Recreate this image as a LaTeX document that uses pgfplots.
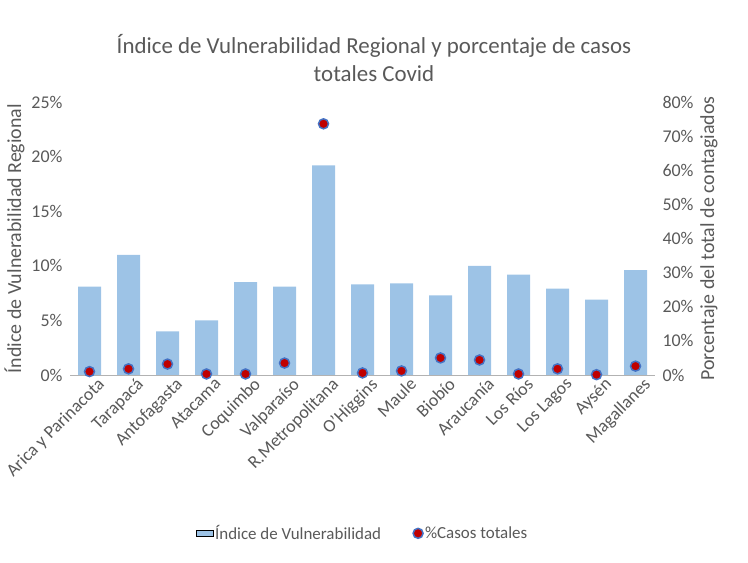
\documentclass[border=0pt]{standalone}
\usepackage{pgfplots}
\pgfplotsset{compat=1.18}
\usepackage{fontspec}
\setmainfont{Carlito}
\definecolor{bar}{HTML}{9DC3E6}
\definecolor{txt}{HTML}{595959}
\definecolor{mk}{HTML}{C00000}
\definecolor{edge}{HTML}{4472C4}
\begin{document}
\begin{tikzpicture}[x=1bp,y=1bp]
\path (0,0) rectangle (748,563);
\node[text=txt,font=\fontsize{23}{28}\selectfont,align=center] at (374,505) {Índice de Vulnerabilidad Regional y porcentaje de casos\\totales Covid};
\begin{axis}[at={(70bp,188bp)},anchor=south west,scale only axis,width=585bp,height=273bp,
  ymin=0,ymax=25,ytick={0,5,...,25},yticklabel={\pgfmathprintnumber{\tick}\%},
  xmin=-0.5,xmax=14.5,xtick={0,...,14},
  xticklabels={Arica y Parinacota,Tarapacá,Antofagasta,Atacama,Coquimbo,Valparaíso,R.Metropolitana,O'Higgins,Maule,Biobío,Araucanía,Los Ríos,Los Lagos,Aysén,Magallanes},
  xticklabel style={rotate=45,anchor=north east,inner sep=0pt,yshift=-6bp,xshift=4bp},
  yticklabel style={xshift=-4bp},
  axis y line*=left, axis x line*=bottom, y axis line style={draw=none},
  x axis line style={draw=gray!60}, major tick length=0pt,
  tick label style={text=txt,font=\fontsize{18}{21}\selectfont},
  /pgf/number format/assume math mode=true,
  ylabel={Índice de Vulnerabilidad Regional},ylabel style={text=txt,font=\fontsize{20}{24}\selectfont},
  ]
\addplot[ybar,bar width=23bp,fill=bar,draw=none] coordinates {(0,8.1)(1,11.0)(2,4.0)(3,5.0)(4,8.5)(5,8.1)(6,19.2)(7,8.3)(8,8.4)(9,7.3)(10,10.0)(11,9.2)(12,7.9)(13,6.9)(14,9.6)};
\end{axis}
\begin{axis}[at={(70bp,188bp)},anchor=south west,scale only axis,width=585bp,height=273bp,
  ymin=0,ymax=80,ytick={0,10,...,80},yticklabel={\pgfmathprintnumber{\tick}\%},
  xmin=-0.5,xmax=14.5,xtick=\empty,
  axis y line*=right, axis x line=none, y axis line style={draw=none}, major tick length=0pt,
  yticklabel style={xshift=4bp},
  tick label style={text=txt,font=\fontsize{18}{21}\selectfont},
  /pgf/number format/assume math mode=true,
  ylabel={Porcentaje del total de contagiados},ylabel style={text=txt,font=\fontsize{20}{24}\selectfont},
  legend style={at={(0.5,-0.58)},anchor=center,draw=none,legend columns=2,font=\fontsize{17}{20}\selectfont,text=txt,/tikz/every even column/.append style={column sep=30bp}},
  ]
\addlegendimage{area legend,fill=bar,draw=none}
\addlegendentry{Índice de Vulnerabilidad}
\addplot[only marks,mark=*,mark size=5bp,mark options={fill=mk,draw=edge,line width=1.5bp}] coordinates {(0,1.0)(1,1.8)(2,3.2)(3,0.3)(4,0.3)(5,3.5)(6,73.6)(7,0.6)(8,1.2)(9,5.0)(10,4.4)(11,0.3)(12,1.8)(13,0.1)(14,2.6)};
\addlegendentry{\%Casos totales}
\end{axis}
\end{tikzpicture}
\end{document}
